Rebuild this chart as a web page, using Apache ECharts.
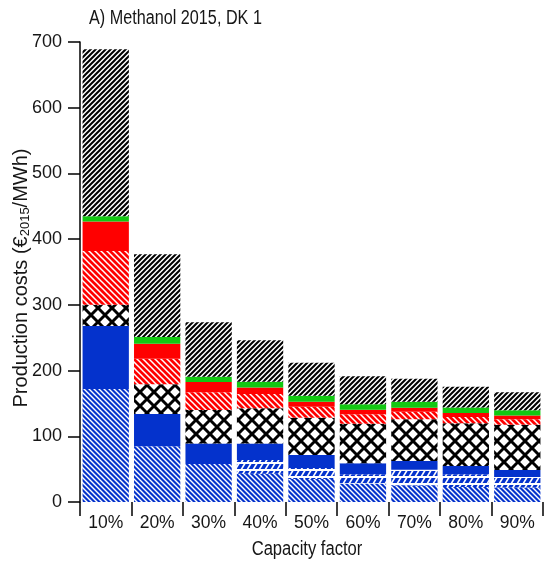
<!DOCTYPE html>
<html>
<head>
<meta charset="utf-8">
<title>Methanol 2015, DK 1</title>
<script src="https://cdn.jsdelivr.net/npm/echarts@6/dist/echarts.min.js"></script>
<style>
  html, body { margin: 0; padding: 0; background: #fff; }
  #chart { width: 546px; height: 564px; }
</style>
</head>
<body>
<div id="chart"></div>
<script>
// Capacity factors on the x axis
const categories = ['10%', '20%', '30%', '40%', '50%', '60%', '70%', '80%', '90%'];

// Cost components (EUR2015/MWh), stacked bottom to top
const blueHatched  = [172, 85, 58, 43, 35, 28, 25, 22.8, 22];
const blueDashed   = [0, 0, 0, 21, 16.7, 14.4, 24.2, 19.6, 16];
const blueSolid    = [96, 49, 31, 25, 19.8, 16.5, 13.2, 12.4, 10.7];
const crossHatched = [32, 45, 51, 53.6, 56.8, 60.3, 63.4, 65, 69];
const redHatched   = [82, 39, 27, 21.8, 16.7, 14.5, 11.7, 9.6, 8.3];
const redSolid     = [45, 23, 15.5, 10, 7.7, 6.8, 6.1, 6.1, 5.7];
const greenSolid   = [8, 10, 8, 8.7, 8.8, 8.4, 8.9, 8.3, 8.1];
const blackHatched = [254, 126, 83, 63, 50.5, 42.3, 35.2, 31.7, 27.1];

// Y axis ticks
const yTicks = [0, 100, 200, 300, 400, 500, 600, 700];

const BLUE = '#0432cc';
const RED = '#ff0000';
const GREEN = '#12c812';
const FONT = "'Liberation Sans', Arial, sans-serif";
const TEXT = '#161616';

// ---- fill patterns drawn on small canvases ----
function tile(w, h, bg) {
  const c = document.createElement('canvas');
  c.width = w; c.height = h;
  const ctx = c.getContext('2d');
  ctx.fillStyle = bg;
  ctx.fillRect(0, 0, w, h);
  return { c, ctx };
}

// Diagonal stripes; dir = 1 draws '/', dir = -1 draws '\'
function stripes(size, bg, fg, lw, dir) {
  const { c, ctx } = tile(size, size, bg);
  ctx.strokeStyle = fg;
  ctx.lineWidth = lw;
  ctx.lineCap = 'square';
  for (const k of [-size, 0, size]) {
    ctx.beginPath();
    if (dir > 0) { ctx.moveTo(k - 1, size + 1); ctx.lineTo(k + size + 1, -1); }
    else { ctx.moveTo(k - 1, -1); ctx.lineTo(k + size + 1, size + 1); }
    ctx.stroke();
  }
  return { image: c, repeat: 'repeat' };
}

// Diamond lattice
function lattice(size, bg, fg, lw) {
  const { c, ctx } = tile(size, size, bg);
  ctx.strokeStyle = fg;
  ctx.lineWidth = lw;
  for (const k of [-size, 0, size]) {
    ctx.beginPath();
    ctx.moveTo(k - 1, -1); ctx.lineTo(k + size + 1, size + 1);
    ctx.moveTo(k - 1, size + 1); ctx.lineTo(k + size + 1, -1);
    ctx.stroke();
  }
  return { image: c, repeat: 'repeat' };
}

// Rows of short slanted dashes
function dashRows(w, h, fg) {
  const { c, ctx } = tile(w, h, '#ffffff');
  ctx.fillStyle = fg;
  ctx.fillRect(0, 2, w, h - 2);
  ctx.strokeStyle = '#ffffff';
  ctx.lineWidth = 1.6;
  for (const k of [-w, 0, w]) {
    ctx.beginPath();
    ctx.moveTo(k + 1, h + 1);
    ctx.lineTo(k + 1 + h * 0.6, 1);
    ctx.stroke();
  }
  return { image: c, repeat: 'repeat' };
}

const fills = {
  blueHatched: stripes(5, BLUE, '#ffffff', 1.4, -1),
  blueDashed: dashRows(6, 7, BLUE),
  blueSolid: BLUE,
  crossHatched: lattice(14, '#ffffff', '#000000', 3),
  redHatched: stripes(6, RED, '#ffffff', 1.5, -1),
  redSolid: RED,
  greenSolid: GREEN,
  blackHatched: stripes(5, '#ffffff', '#000000', 2.0, 1)
};

const layers = [
  ['blueHatched', blueHatched],
  ['blueDashed', blueDashed],
  ['blueSolid', blueSolid],
  ['crossHatched', crossHatched],
  ['redHatched', redHatched],
  ['redSolid', redSolid],
  ['greenSolid', greenSolid],
  ['blackHatched', blackHatched]
];

const chart = echarts.init(document.getElementById('chart'), null, { renderer: 'canvas' });

chart.setOption({
  animation: false,
  backgroundColor: '#ffffff',
  // Panel title and x-axis title, set in a slightly condensed face
  graphic: [
    {
      type: 'text',
      x: 89, y: 8,
      scaleX: 0.81,
      style: { text: 'A) Methanol 2015, DK 1', font: '20px ' + FONT, fill: TEXT, textVerticalAlign: 'top' }
    },
    {
      type: 'text',
      x: 307, y: 539,
      scaleX: 0.83,
      style: { text: 'Capacity factor', font: '20px ' + FONT, fill: TEXT, textAlign: 'center', textVerticalAlign: 'top' }
    }
  ],
  grid: { left: 80, right: 3, top: 42, bottom: 62, containLabel: false, outerBoundsMode: 'none' },
  xAxis: {
    type: 'category',
    data: categories,
    boundaryGap: true,
    axisLine: { show: false },
    axisTick: {
      show: true,
      alignWithLabel: false,
      interval: 0,
      length: 14,
      lineStyle: { color: '#000', width: 1.5 }
    },
    axisLabel: { fontFamily: FONT, fontSize: 17.5, color: TEXT, margin: 12, interval: 0 },
    splitLine: { show: false }
  },
  yAxis: {
    type: 'value',
    min: yTicks[0],
    max: yTicks[yTicks.length - 1],
    interval: yTicks[1] - yTicks[0],
    name: 'Production costs (€{sub|2015}/MWh)',
    nameLocation: 'middle',
    nameRotate: 90,
    nameGap: 48,
    nameMoveOverlap: false,
    nameTextStyle: {
      fontFamily: FONT,
      fontSize: 20,
      color: TEXT,
      lineHeight: 22,
      padding: [0, 12, 0, 0],
      rich: {
        sub: { fontFamily: FONT, fontSize: 13, lineHeight: 13, color: TEXT, verticalAlign: 'bottom' }
      }
    },
    axisLine: { show: true, lineStyle: { color: '#000', width: 1.5 } },
    axisTick: { show: true, length: 12, lineStyle: { color: '#000', width: 1.5 } },
    axisLabel: { fontFamily: FONT, fontSize: 18, color: TEXT, margin: 18 },
    splitLine: { show: false }
  },
  series: layers.map(([name, values]) => ({
    name,
    type: 'bar',
    stack: 'cost',
    data: values,
    barCategoryGap: '10%',
    itemStyle: { color: fills[name], borderWidth: 0 },
    emphasis: { disabled: true }
  }))
});
</script>
</body>
</html>
